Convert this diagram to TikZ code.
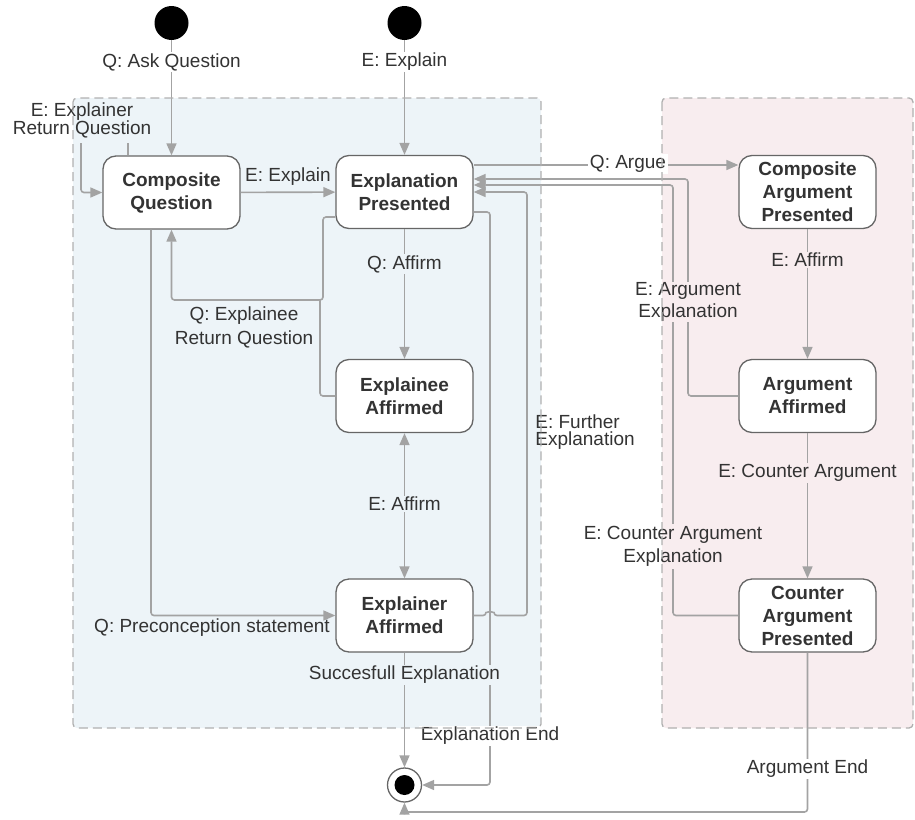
\documentclass[tikz,border=0pt]{standalone}
\usepackage{fontspec}
\setmainfont{Liberation Sans}
\usetikzlibrary{arrows.meta}
\definecolor{linec}{HTML}{A3A3A3}
\definecolor{nodeb}{HTML}{666666}
\definecolor{textc}{HTML}{333333}
\definecolor{bluebg}{HTML}{EDF4F8}
\definecolor{pinkbg}{HTML}{F8EDEF}
\definecolor{dashc}{HTML}{B0B0B0}
\tikzset{
  st/.style={draw=nodeb, line width=1.3pt, rounded corners=13pt, fill=white,
    minimum width=137pt, minimum height=73pt, inner sep=0pt, align=center,
    text=textc, font=\fontsize{19}{23}\selectfont\bfseries},
  initc/.style={circle, fill=black, minimum size=34pt, inner sep=0pt},
  conn/.style={draw=linec, line width=1.6pt, rounded corners=3pt,
    -{Triangle[length=12pt,width=10pt]}},
  plainconn/.style={draw=linec, line width=1.6pt, rounded corners=3pt},
  lbl/.style={text=textc, inner sep=1.5pt, align=center,
    font=\fontsize{19}{22}\selectfont},
  container/.style={draw=dashc, line width=1.3pt, dash pattern=on 9pt off 5pt,
    rounded corners=4pt}
}
\begin{document}
\begin{tikzpicture}[x=1pt,y=-1pt]
\useasboundingbox (0,0) rectangle (915,819);
% container backgrounds
\fill[bluebg, rounded corners=4pt] (73,98) rectangle (541,728);
\fill[pinkbg, rounded corners=4pt] (662,98) rectangle (913,728);

% states
\node[initc] (i1) at (171.5,23) {};
\node[initc] (i2) at (404.5,23) {};
\node[st] (cq)  at (171.5,192.5) {Composite\\Question};
\node[st] (ep)  at (404.5,192) {Explanation\\Presented};
\node[st] (ea)  at (404.5,396) {Explainee\\Affirmed};
\node[st] (exa) at (404.5,615.5) {Explainer\\Affirmed};
\node[st] (cap) at (807.5,192) {Composite\\Argument\\Presented};
\node[st] (ar)  at (807.5,396) {Argument\\Affirmed};
\node[st] (cnt) at (807.5,615.5) {Counter\\Argument\\Presented};
\node[circle, draw=nodeb, line width=1.3pt, fill=white, minimum size=34pt,
      inner sep=0pt] (fin) at (404.5,785) {};
\fill (fin.center) circle (10pt);

% helper coordinates
\coordinate (erqA) at (128,143);
\coordinate (erqB) at (81,143);
\coordinate (qr) at (323,217);
\coordinate (qrB) at (171.5,300);
\coordinate (qrE) at (320,300);
\coordinate (pc) at (151,615.5);
\coordinate (fe) at (527,192);
\coordinate (ee) at (490,212);
\coordinate (qa) at (700,165);
\coordinate (aa) at (688,179);
\coordinate (ca) at (673,185);
\coordinate (ae) at (0,812);

% connectors
\draw[conn] (i1) -- (cq);
\draw[conn] (i2) -- (ep);
\draw[plainconn] (cq.north -| erqA) -- (erqA);
\draw[conn] (erqB) |- (cq.west);
\draw[conn] (cq) -- (ep);
\draw[conn] (ep) -- (ea);
\draw[conn] (qr -| ep.west) -- (qr) |- (qrB) -- (cq.south);
\draw[plainconn] (ea.west) -| (qrE);
\draw[conn] (pc |- cq.south) -- (pc) -- (exa.west);
\draw[draw=linec, line width=1.6pt,
      {Triangle[length=12pt,width=10pt]}-{Triangle[length=12pt,width=10pt]}] (ea) -- (exa);
\draw[conn] (exa.east) -- (486,615.5) arc[start angle=180, end angle=0, radius=4pt]
   -- (fe |- exa.east) -- (fe) -- (fe -| ep.east);
\draw[conn] (ee -| ep.east) -- (ee) -- (ee |- fin) -- (fin);
\draw[conn] (exa) -- (fin);
\draw[conn] (qa -| ep.east) -- (qa -| cap.west);
\draw[conn] (ar.west) -| (aa) -- (aa -| ep.east);
\draw[conn] (cnt.west) -| (ca) -- (ca -| ep.east);
\draw[conn] (cap) -- (ar);
\draw[conn] (ar) -- (cnt);
\draw[conn] (cnt) -- (cnt |- ae) -- (fin |- ae) -- (fin);

% label patches (pink part only)
\fill[pinkbg] (663.5,282) rectangle (746,322);
\fill[pinkbg] (663.5,524) rectangle (768,569);

% labels
\node[lbl, fill=white] (lAsk) at (171.5,62) {Q: Ask Question};
\node[lbl, fill=white] (lExp0) at (404.5,62) {E: Explain};
\node[lbl, font=\fontsize{19}{18}\selectfont] (lErq) at (82,120) {E: Explainer\\Return Question};
\node[lbl] (lExp) at (288,177) {E: Explain};
\node[lbl, fill=bluebg] (lAff) at (404.5,264) {Q: Affirm};
\node[lbl, fill=bluebg, font=\fontsize{19}{24}\selectfont] (lQr) at (244,327) {Q: Explainee\\Return Question};
\node[lbl, fill=bluebg] (lEaff) at (404.5,504) {E: Affirm};
\node[lbl] (lPre) at (212,628) {Q: Preconception statement};
\node[lbl, fill=bluebg] (lSucc) at (404.5,675) {Succesfull Explanation};
\node[lbl, fill=white] (lEnd) at (490,736) {Explanation End};
\node[lbl, align=left, font=\fontsize{19}{17.5}\selectfont] (lFur) at (585,432) {E: Further\\Explanation};
\node[lbl, fill=white] (lArg) at (628,164) {Q: Argue};
\node[lbl] (lAE) at (688,302) {E: Argument\\Explanation};
\node[lbl, font=\fontsize{19}{23}\selectfont] (lCAE) at (673,546) {E: Counter Argument\\Explanation};
\node[lbl, fill=pinkbg] (lCaff) at (807.5,260) {E: Affirm};
\node[lbl, fill=pinkbg] (lCA) at (807.5,473) {E: Counter Argument};
\node[lbl, fill=white] (lAEnd) at (807.5,769) {Argument End};

% container borders on top
\draw[container] (73,98) rectangle (541,728);
\draw[container] (662,98) rectangle (913,728);
\end{tikzpicture}
\end{document}
